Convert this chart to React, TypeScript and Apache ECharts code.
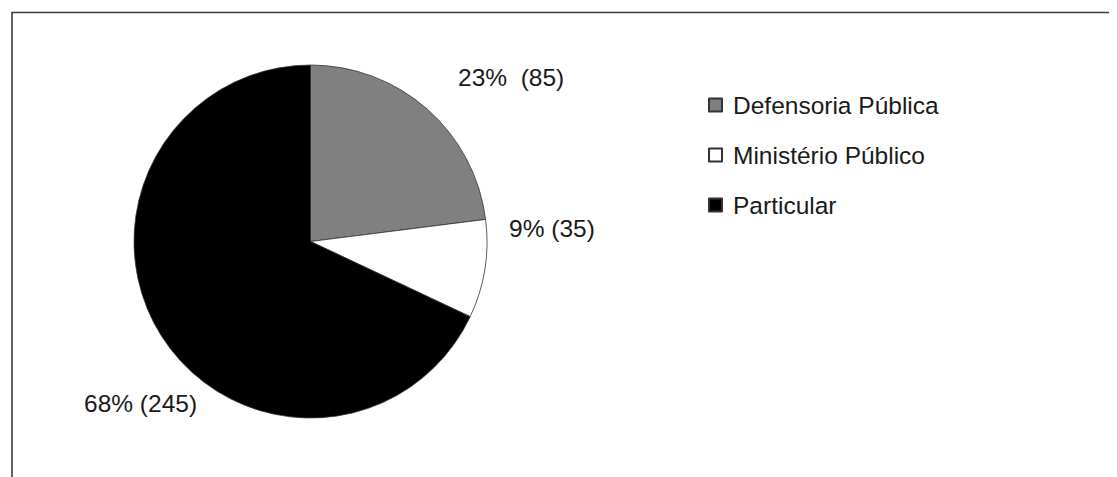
import React, { useEffect, useRef } from "react";
import * as echarts from "echarts";

const categories = ["Defensoria Pública", "Ministério Público", "Particular"];
const percents = [23, 9, 68];
const counts = [85, 35, 245];
const labelGaps = ["  ", " ", " "];
const colors = ["#808080", "#ffffff", "#000000"];

export default function App() {
  const ref = useRef<HTMLDivElement>(null);
  useEffect(() => {
    if (!ref.current) return;
    const chart = echarts.init(ref.current, null, { renderer: "svg" });
    const labelPos = [
      { x: 450, y: 69 },
      { x: 501, y: 220 },
      { x: 76, y: 395 },
    ];
    const font = "Liberation Sans, Arial, sans-serif";
    chart.setOption({
      animation: false,
      backgroundColor: "#ffffff",
      textStyle: { fontFamily: font },
      graphic: [
        {
          type: "rect",
          shape: { x: 4, y: 4.5, width: 1300, height: 1000 },
          style: { fill: "none", stroke: "#3a3a3a", lineWidth: 1.6 },
          silent: true,
        },
      ],
      legend: {
        orient: "vertical",
        left: 695,
        top: 78,
        itemWidth: 13,
        itemHeight: 13,
        itemGap: 22,
        icon: "rect",
        data: categories,
        textStyle: {
          fontSize: 24.5,
          color: "#1a1a1a",
          lineHeight: 28,
          padding: [0, 0, 0, 6],
          fontFamily: font,
        },
      },
      series: [
        {
          type: "pie",
          center: [302.5, 233.5],
          radius: 176.5,
          startAngle: 90,
          clockwise: true,
          avoidLabelOverlap: false,
          data: categories.map((name, i) => ({
            name,
            value: percents[i],
            itemStyle: { color: colors[i] },
          })),
          itemStyle: { borderColor: "#333333", borderWidth: 0.8 },
          label: {
            show: true,
            position: "outside",
            formatter: (p: any) =>
              `${percents[p.dataIndex]}%${labelGaps[p.dataIndex]}(${counts[p.dataIndex]})`,
            fontSize: 24.5,
            color: "#1a1a1a",
            fontFamily: font,
          },
          labelLine: { show: false },
          labelLayout: (p: any) => ({
            x: labelPos[p.dataIndex].x,
            y: labelPos[p.dataIndex].y,
            align: "left",
            verticalAlign: "middle",
          }),
          emphasis: { disabled: true },
        },
      ],
    });
    return () => chart.dispose();
  }, []);
  return <div ref={ref} style={{ width: 1109, height: 469 }} />;
}
